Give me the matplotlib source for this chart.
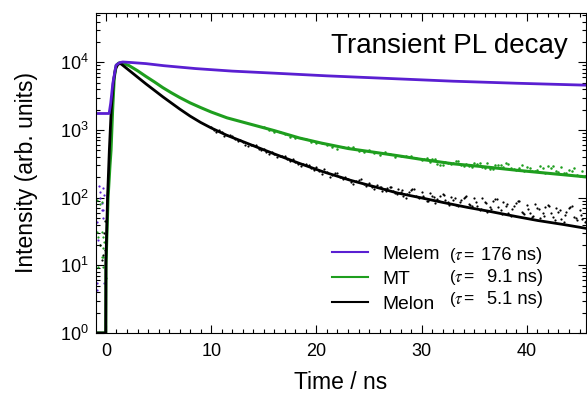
import numpy as np;
import matplotlib;
matplotlib.use('Agg');
import matplotlib.pyplot as plt;
from matplotlib.ticker import MultipleLocator, LogLocator, NullFormatter;
from matplotlib.lines import Line2D;

plt.rcParams['font.family'] = ['Liberation Sans', 'DejaVu Sans'];
plt.rcParams['mathtext.fontset'] = 'stix';

# Series names and lifetimes (legend)
names = ['Melem', 'MT', 'Melon'];
tau_values = ['176 ns)', '9.1 ns)', '5.1 ns)'];
colors = ['#5a1fd2', '#1e9e1e', '#000000'];

# Fit curves (time in ns, intensity in counts)
t_melem_fit = [-1.0, 0.3, 0.45, 0.65, 0.95, 1.3, 1.6, 2.5, 3.8, 5.5, 8.5, 12, 16, 21, 27, 33, 39, 46];
melem_fit = [1750, 1750, 2500, 4850, 9040, 9890, 10100, 9890, 9550, 8900, 8070, 7400, 6900, 6300, 5750, 5250, 4900, 4570];

t_mt_fit = [-1.0, -0.02, 0.0, 0.2, 0.38, 0.48, 0.63, 0.79, 0.98, 1.2, 1.45, 2.2, 3.0, 3.8, 4.6, 5.4, 6.2, 7.0,
            8.0, 9.0, 10, 11.5, 13.7, 16, 18.4, 20.5, 23, 25.5, 27.7, 30, 33, 36, 39, 42, 45.7];
mt_fit = [1.0, 1.0, 10, 100, 300, 500, 1950, 6000, 9000, 9700, 9890, 8910, 7500, 6170, 5130, 4220, 3550, 3020,
          2510, 2140, 1840, 1510, 1220, 977, 759, 638, 532, 468, 417, 367, 316, 285, 254, 229, 202];

t_melon_fit = [-1.0, -0.02, 0.0, 0.15, 0.32, 0.5, 0.7, 0.9, 1.15, 1.4, 2.2, 3.0, 3.8, 4.6, 5.4, 6.2, 7.0, 8.0,
               9.0, 10, 11.5, 13.7, 16, 18.4, 20.5, 23.2, 25.5, 27.7, 30, 32, 34.3, 36.6, 39, 41, 43.5, 45.7];
melon_fit = [1.0, 1.0, 12, 100, 500, 2000, 5000, 8000, 9400, 9550, 7590, 6030, 4790, 3850, 3090, 2510, 2040, 1600,
             1290, 1070, 832, 610, 442, 320, 245, 181, 145, 117, 99, 85, 72, 62, 52.5, 46, 40, 35];

t_melon_pts = [10, 10.5, 11, 11.5, 12, 12.5, 13, 13.5, 14, 14.5, 15, 15.5, 16, 16.5, 17, 17.5, 18, 18.5, 19, 19.5,
               20, 20.5, 21, 21.5, 22, 22.5, 23, 23.5, 24, 24.5, 25, 25.5, 26, 26.5, 27, 27.5, 28, 28.5, 29, 29.5,
               30, 30.5, 31, 31.5, 32, 32.5, 33, 33.5, 34, 34.5, 35, 35.5, 36, 36.5, 37, 37.5, 38, 38.5, 39, 39.5,
               40, 40.5, 41, 41.5, 42, 42.5, 43, 43.5, 44, 44.5, 45, 45.5,
               10.25, 10.75, 11.25, 11.75, 12.25, 12.75, 13.25, 13.75, 14.25, 14.75, 15.25, 15.75, 16.25, 16.75,
               17.25, 17.75, 18.25, 18.75, 19.25, 19.75, 20.25, 20.75, 21.25, 21.75, 22.25, 22.75, 23.25, 23.75,
               24.25, 24.75, 25.25, 25.75, 26.25, 26.75, 27.25, 27.75, 28.25, 28.75, 29.25, 29.75, 30.25, 30.75,
               31.25, 31.75, 32.25, 32.75, 33.25, 33.75, 34.25, 34.75, 35.25, 35.75, 36.25, 36.75, 37.25, 37.75,
               38.25, 38.75, 39.25, 39.75, 40.25, 40.75, 41.25, 41.75, 42.25, 42.75, 43.25, 43.75, 44.25, 44.75,
               45.25,
               26.125, 26.625, 27.125, 27.625, 28.125, 28.625, 29.125, 29.625, 30.125, 30.625, 31.125, 31.625,
               32.125, 32.625, 33.125, 33.625, 34.125, 34.625, 35.125, 35.625, 36.125, 36.625, 37.125, 37.625,
               38.125, 38.625, 39.125, 39.625, 40.125, 40.625, 41.125, 41.625, 42.125, 42.625, 43.125, 43.625,
               44.125, 44.625, 45.125, 45.625];
melon_pts = [1120, 935, 930, 830, 826, 692, 665, 575, 604, 526, 522, 443, 446, 406, 414, 351, 341, 295, 310, 273,
             282, 226, 243, 216, 232, 186, 188, 158, 184, 157, 166, 133, 146, 132, 146, 119, 122, 98, 129, 105,
             120, 89, 106, 94, 113, 85, 93, 74, 99, 81, 98, 65, 86, 73, 97, 65, 74, 54, 84, 62,
             78, 52, 70, 60, 79, 52, 61, 44, 70, 52, 65, 44,
             1000, 1002, 822, 836, 740, 716, 608, 604, 596, 498, 471, 478, 398, 414,
             373, 366, 312, 310, 307, 259, 244, 264, 205, 228, 200, 205, 168, 178,
             186, 148, 144, 156, 124, 141, 127, 132, 104, 120, 135, 98, 98, 118,
             84, 106, 93, 103, 79, 91, 104, 75, 74, 100, 61, 88, 73, 86,
             59, 74, 90, 57, 59, 81, 50, 72, 59, 70, 48, 61, 75, 47,
             49,
             143, 126, 143, 112, 129, 112, 134, 102, 107, 90, 103, 89,
             110, 79, 98, 85, 102, 79, 85, 67, 83, 67, 94, 57,
             80, 67, 88, 60, 68, 53, 67, 54, 76, 47, 65, 55,
             73, 50, 56, 45];

t_mt_pts = [15, 15.5, 16, 16.5, 17, 17.5, 18, 18.5, 19, 19.5, 20, 20.5, 21, 21.5, 22, 22.5, 23, 23.5, 24, 24.5,
            25, 25.5, 26, 26.5, 27, 27.5, 28, 28.5, 29, 29.5, 30, 30.5, 31, 31.5, 32, 32.5, 33, 33.5, 34, 34.5,
            35, 35.5, 36, 36.5, 37, 37.5, 38, 38.5, 39, 39.5, 40, 40.5, 41, 41.5, 42, 42.5, 43, 43.5, 44, 44.5,
            45, 45.5,
            30.25, 30.75, 31.25, 31.75, 32.25, 32.75, 33.25, 33.75, 34.25, 34.75, 35.25, 35.75, 36.25, 36.75,
            37.25, 37.75, 38.25, 38.75, 39.25, 39.75, 40.25, 40.75, 41.25, 41.75, 42.25, 42.75, 43.25, 43.75,
            44.25, 44.75, 45.25];
mt_pts = [1100, 993, 920, 940, 873, 783, 769, 759, 738, 673, 631, 641, 605, 564, 525, 555, 558, 553, 491, 470,
          499, 455, 433, 472, 446, 401, 411, 419, 419, 379, 359, 384, 373, 316, 305, 330, 327, 344, 297, 298,
          325, 328, 275, 269, 301, 303, 323, 277, 260, 299, 284, 244, 259, 270, 294, 294, 237, 231, 252, 274,
          211, 212,
          371, 336, 374, 306, 341, 313, 344, 301, 315, 286, 310, 286, 322, 266,
          301, 279, 318, 262, 277, 246, 275, 247, 292, 229, 270, 246, 282, 234,
          247, 219, 245];

# Noisy points before time zero
t_melem_pre = [-0.26, -0.57, -0.57, -0.41, -0.26, -0.41, -0.26, -0.88, -0.73, -0.83, -0.83, -0.19, -0.7, -0.15];
melem_pre = [137, 122, 98, 83, 65, 65, 50, 44, 23.5, 5.5, 4.3, 5.5, 150, 110];
t_mt_pre = [-0.88, -0.41, -0.73, -0.26, -0.2, -0.57, -0.26, -0.41, -0.26, -0.73, -0.26, 0.0, -0.88, -0.41, -0.57];
mt_pre = [31, 31, 26, 26, 22, 20, 18, 13.4, 13.4, 9.5, 9.5, 6.5, 92, 87, 80];
t_melon_pre = [-0.1, -0.26, -0.41, -0.57, -0.2, -0.1];
melon_pre = [16.8, 14, 12, 20, 30, 45];

fig = plt.figure(figsize=(5.87, 3.93), dpi=100);
ax = fig.add_axes([0.1635, 0.1527, 0.8345, 0.815]);
ax.set_yscale('log');

# Data points
ax.plot(t_melem_pre, melem_pre, 'o', ms=1.6, mew=0, color=colors[0]);
ax.plot(t_mt_pre, mt_pre, 'o', ms=1.6, mew=0, color=colors[1]);
ax.plot(t_melon_pre, melon_pre, 'o', ms=1.6, mew=0, color=colors[2]);
ax.plot(t_mt_pts, mt_pts, 'o', ms=1.8, mew=0, color=colors[1]);
ax.plot(t_melon_pts, melon_pts, 'o', ms=1.6, mew=0, color=colors[2]);

# Fit lines
ax.plot(t_mt_fit, mt_fit, '-', lw=2.2, color=colors[1]);
ax.plot(t_melon_fit, melon_fit, '-', lw=2.0, color=colors[2]);
ax.plot(t_melem_fit, melem_fit, '-', lw=2.0, color=colors[0]);

ax.set_xlim(-0.95, 45.6);
ax.set_ylim(1, 5.4e4);

ax.xaxis.set_major_locator(MultipleLocator(10));
ax.xaxis.set_minor_locator(MultipleLocator(1));
ax.yaxis.set_major_locator(LogLocator(base=10, numticks=10));
ax.yaxis.set_minor_locator(LogLocator(base=10, subs=np.arange(2, 10), numticks=10));
ax.yaxis.set_minor_formatter(NullFormatter());
ax.tick_params(which='both', direction='in', top=True, right=True, labelsize=13, width=0.8);
ax.tick_params(which='major', length=6);
ax.tick_params(which='minor', length=3);
ax.tick_params(axis='x', pad=7);
ax.tick_params(axis='y', pad=5);
for s in ax.spines.values():
    s.set_linewidth(0.8);
#

ax.set_xlabel('Time / ns', fontsize=16.5, labelpad=8);
ax.set_ylabel('Intensity (arb. units)', fontsize=16.5, labelpad=16);

ax.text(0.963, 0.874, 'Transient PL decay', transform=ax.transAxes, ha='right', va='baseline', fontsize=20);

# Legend
handles = [Line2D([], [], color=c, lw=1.5) for c in colors];
ax.legend(handles, names, loc='lower left', bbox_to_anchor=(0.4457, 0.01), frameon=False,
          fontsize=13.8, handlelength=1.9, handletextpad=0.75, labelspacing=0.385);
row_y = [0.2264, 0.160, 0.0905];
for y, tv in zip(row_y, tau_values):
    ax.text(0.720, y, r'($\tau$', transform=ax.transAxes, ha='left', va='baseline', fontsize=12);
    ax.text(0.749, y, '=', transform=ax.transAxes, ha='left', va='baseline', fontsize=12.5);
    ax.text(0.912, y, tv, transform=ax.transAxes, ha='right', va='baseline', fontsize=13.2);
#

fig.savefig('out.png', dpi=100);
